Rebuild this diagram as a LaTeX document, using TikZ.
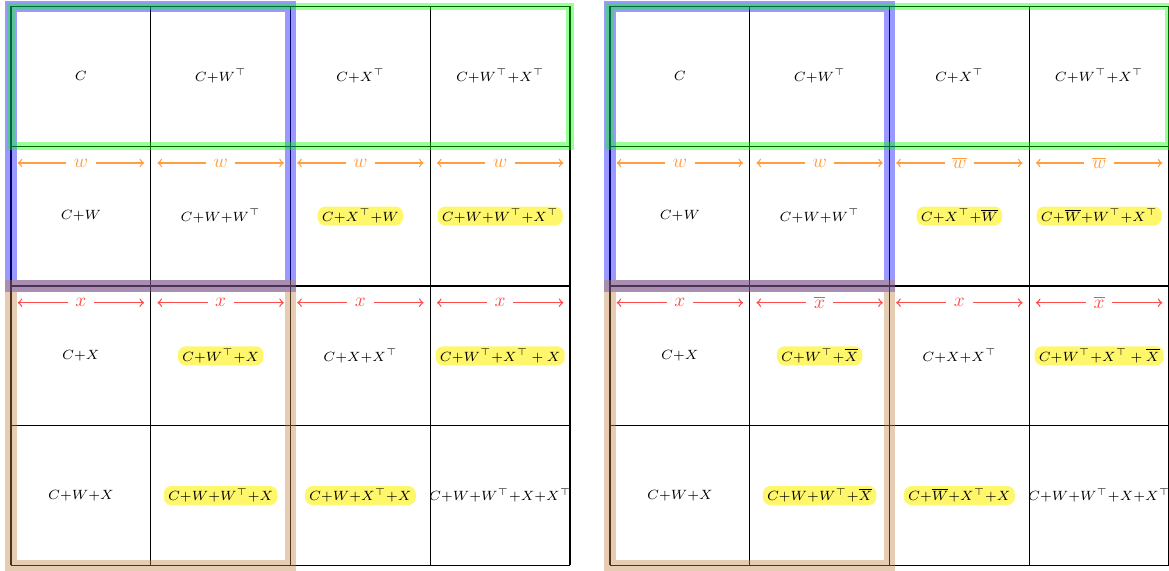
\documentclass[tikz,border=0pt]{standalone}
\usepackage{amsmath,amssymb}
\usepackage{tikz}
\definecolor{gridcol}{gray}{0.0}
\colorlet{hlcol}{yellow!58}
\colorlet{wcol}{orange!75}
\colorlet{xcol}{red!70}
\tikzset{
  cellv/.style={font=\scriptsize,inner sep=1pt},
  hl/.style={cellv,fill=hlcol,rounded corners=4pt,inner xsep=2.2pt,inner ysep=1.3pt},
  gridl/.style={draw=gridcol,line width=0.7pt,step=2.56cm},
  warr/.style={<->,draw=wcol,line width=0.7pt},
  xarr/.style={<->,draw=xcol,line width=0.7pt},
  wlab/.style={fill=white,text=wcol,inner xsep=4pt,inner ysep=1pt},
  xlab/.style={fill=white,text=xcol,inner xsep=4pt,inner ysep=1pt},
  band/.style={opacity=0.4,line width=6pt},
}

\begin{document}
\begin{tikzpicture}[x=2.56cm,y=2.56cm]
  \useasboundingbox (-0.079,0.046) rectangle (8.286,-4.033);
  % left table
  \draw[gridl] (0,0) grid (4,-4);
  \node[cellv] (l11) at (0.5,-0.5) {$C$};
  \node[cellv] (l12) at (1.5,-0.5) {$C{+}W^{\top}$};
  \node[cellv] (l13) at (2.5,-0.5) {$C{+}X^{\top}$};
  \node[cellv] (l14) at (3.5,-0.5) {$C{+}W^{\top}{+}X^{\top}$};
  \node[cellv] (l21) at (0.5,-1.5) {$C{+}W$};
  \node[cellv] (l22) at (1.5,-1.5) {$C{+}W{+}W^{\top}$};
  \node[hl] (l23) at (2.5,-1.5) {$C{+}X^{\top}{+}W$};
  \node[hl] (l24) at (3.5,-1.5) {$C{+}W{+}W^{\top}{+}X^{\top}$};
  \node[cellv] (l31) at (0.5,-2.5) {$C{+}X$};
  \node[hl] (l32) at (1.5,-2.5) {$C{+}W^{\top}{+}X$};
  \node[cellv] (l33) at (2.5,-2.5) {$C{+}X{+}X^{\top}$};
  \node[hl] (l34) at (3.5,-2.5) {$C{+}W^{\top}{+}X^{\top} + X$};
  \node[cellv] (l41) at (0.5,-3.5) {$C{+}W{+}X$};
  \node[hl] (l42) at (1.5,-3.5) {$C{+}W{+}W^{\top}{+}X$};
  \node[hl] (l43) at (2.5,-3.5) {$C{+}W{+}X^{\top}{+}X$};
  \node[cellv] (l44) at (3.5,-3.5) {$C{+}W{+}W^{\top}{+}X{+}X^{\top}$};
  \coordinate (lwa1) at (0.048,-1.12); \coordinate (lwb1) at (0.952,-1.12);
  \coordinate (lwa2) at (1.048,-1.12); \coordinate (lwb2) at (1.952,-1.12);
  \coordinate (lwa3) at (2.048,-1.12); \coordinate (lwb3) at (2.952,-1.12);
  \coordinate (lwa4) at (3.048,-1.12); \coordinate (lwb4) at (3.952,-1.12);
  \draw[warr] (lwa1) -- node[wlab] {$w$} (lwb1);
  \draw[warr] (lwa2) -- node[wlab] {$w$} (lwb2);
  \draw[warr] (lwa3) -- node[wlab] {$w$} (lwb3);
  \draw[warr] (lwa4) -- node[wlab] {$w$} (lwb4);
  \coordinate (lxa1) at (0.048,-2.12); \coordinate (lxb1) at (0.952,-2.12);
  \coordinate (lxa2) at (1.048,-2.12); \coordinate (lxb2) at (1.952,-2.12);
  \coordinate (lxa3) at (2.048,-2.12); \coordinate (lxb3) at (2.952,-2.12);
  \coordinate (lxa4) at (3.048,-2.12); \coordinate (lxb4) at (3.952,-2.12);
  \draw[xarr] (lxa1) -- node[xlab] {$x$} (lxb1);
  \draw[xarr] (lxa2) -- node[xlab] {$x$} (lxb2);
  \draw[xarr] (lxa3) -- node[xlab] {$x$} (lxb3);
  \draw[xarr] (lxa4) -- node[xlab] {$x$} (lxb4);
  \draw[band,blue] (0,0) rectangle (2,-2);
  \draw[band,brown] (0,-2) rectangle (2,-4);
  \draw[band,green,line width=4pt] (0,0) rectangle (4,-1);
  % right table
  \draw[gridl,shift={(4.286,0)}] (0,0) grid (4,-4);
  \node[cellv] (r11) at (4.786,-0.5) {$C$};
  \node[cellv] (r12) at (5.786,-0.5) {$C{+}W^{\top}$};
  \node[cellv] (r13) at (6.786,-0.5) {$C{+}X^{\top}$};
  \node[cellv] (r14) at (7.786,-0.5) {$C{+}W^{\top}{+}X^{\top}$};
  \node[cellv] (r21) at (4.786,-1.5) {$C{+}W$};
  \node[cellv] (r22) at (5.786,-1.5) {$C{+}W{+}W^{\top}$};
  \node[hl] (r23) at (6.786,-1.5) {$C{+}X^{\top}{+}\overline{W}$};
  \node[hl] (r24) at (7.786,-1.5) {$C{+}\overline{W}{+}W^{\top}{+}X^{\top}$};
  \node[cellv] (r31) at (4.786,-2.5) {$C{+}X$};
  \node[hl] (r32) at (5.786,-2.5) {$C{+}W^{\top}{+}\overline{X}$};
  \node[cellv] (r33) at (6.786,-2.5) {$C{+}X{+}X^{\top}$};
  \node[hl] (r34) at (7.786,-2.5) {$C{+}W^{\top}{+}X^{\top} + \overline{X}$};
  \node[cellv] (r41) at (4.786,-3.5) {$C{+}W{+}X$};
  \node[hl] (r42) at (5.786,-3.5) {$C{+}W{+}W^{\top}{+}\overline{X}$};
  \node[hl] (r43) at (6.786,-3.5) {$C{+}\overline{W}{+}X^{\top}{+}X$};
  \node[cellv] (r44) at (7.786,-3.5) {$C{+}W{+}W^{\top}{+}X{+}X^{\top}$};
  \coordinate (rwa1) at (4.334,-1.12); \coordinate (rwb1) at (5.238,-1.12);
  \coordinate (rwa2) at (5.334,-1.12); \coordinate (rwb2) at (6.238,-1.12);
  \coordinate (rwa3) at (6.334,-1.12); \coordinate (rwb3) at (7.238,-1.12);
  \coordinate (rwa4) at (7.334,-1.12); \coordinate (rwb4) at (8.238,-1.12);
  \draw[warr] (rwa1) -- node[wlab] {$w$} (rwb1);
  \draw[warr] (rwa2) -- node[wlab] {$w$} (rwb2);
  \draw[warr] (rwa3) -- node[wlab] {$\overline{w}$} (rwb3);
  \draw[warr] (rwa4) -- node[wlab] {$\overline{w}$} (rwb4);
  \coordinate (rxa1) at (4.334,-2.12); \coordinate (rxb1) at (5.238,-2.12);
  \coordinate (rxa2) at (5.334,-2.12); \coordinate (rxb2) at (6.238,-2.12);
  \coordinate (rxa3) at (6.334,-2.12); \coordinate (rxb3) at (7.238,-2.12);
  \coordinate (rxa4) at (7.334,-2.12); \coordinate (rxb4) at (8.238,-2.12);
  \draw[xarr] (rxa1) -- node[xlab] {$x$} (rxb1);
  \draw[xarr] (rxa2) -- node[xlab] {$\overline{x}$} (rxb2);
  \draw[xarr] (rxa3) -- node[xlab] {$x$} (rxb3);
  \draw[xarr] (rxa4) -- node[xlab] {$\overline{x}$} (rxb4);
  \draw[band,blue] (4.286,0) rectangle (6.286,-2);
  \draw[band,brown] (4.286,-2) rectangle (6.286,-4);
  \draw[band,green,line width=4pt] (4.286,0) rectangle (8.286,-1);
\end{tikzpicture}
\end{document}
